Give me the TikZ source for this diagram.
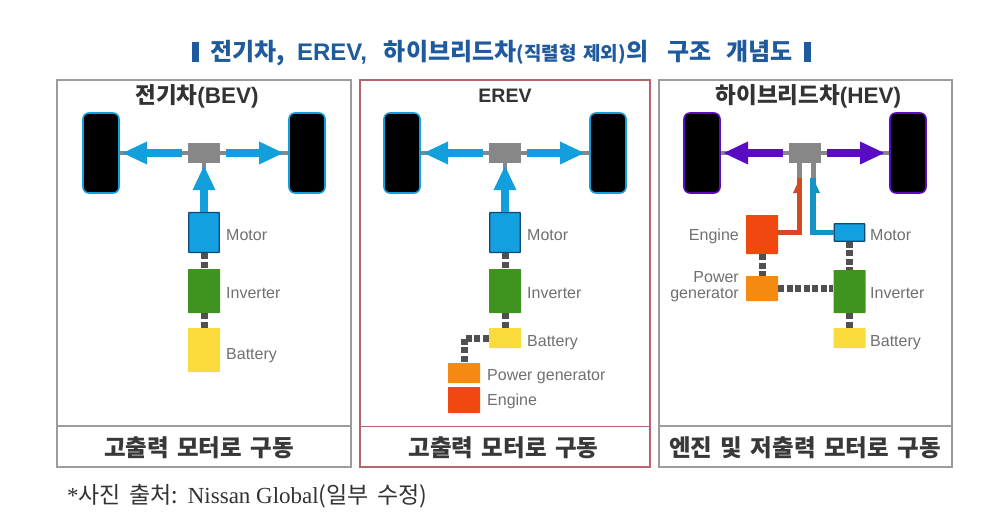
\documentclass[tikz,border=0pt]{standalone}
\usepackage{fontspec}
\setmainfont{Liberation Sans}
\newfontfamily\krf{Noto Sans CJK KR}
\newfontfamily\serf{Liberation Serif}
\usetikzlibrary{arrows.meta,calc}
\definecolor{titleblue}{HTML}{1F5A9C}
\definecolor{panelgray}{HTML}{9C9C9C}
\definecolor{panelred}{HTML}{B5666C}
\definecolor{drivecyan}{HTML}{129FDC}
\definecolor{drivepurple}{HTML}{5A0BC4}
\definecolor{hubgray}{HTML}{878787}
\definecolor{motorblue}{HTML}{12A0E0}
\definecolor{motorline}{HTML}{0B4A78}
\definecolor{invgreen}{HTML}{3F9420}
\definecolor{batyellow}{HTML}{F9DC3C}
\definecolor{genorange}{HTML}{F58A10}
\definecolor{engred}{HTML}{F0480F}
\definecolor{redarrow}{HTML}{D24A20}
\definecolor{bluearrow}{HTML}{1692C8}
\definecolor{wiredark}{HTML}{505050}
\definecolor{labelgray}{HTML}{707070}
\tikzset{
  x=1pt,y=-1pt,
  panelbox/.style={draw=panelgray,line width=1.6pt,fill=white},
  redbox/.style={draw=panelred,line width=1.8pt,fill=white},
  partbox/.style={fill=#1,draw=none,inner sep=0pt,rounded corners=0.6pt},
  wheelbox/.style={fill=black,draw=#1,line width=1.6pt,rounded corners=6pt},
  hubbox/.style={fill=hubgray,draw=none},
  drive/.style={line width=8.5pt,draw=#1,
    -{Triangle[length=25pt,width=21pt]}},
  axle/.style={line width=3.5pt,draw=hubgray},
  wire/.style={line width=7pt,draw=wiredark,dash pattern=on 6pt off 2.5pt},
  halfarrow/.style={line width=5.5pt,draw=#1},
  partlabel/.style={font=\fontsize{16}{16}\selectfont,text=labelgray,inner sep=0pt},
  paneltitle/.style={font=\bfseries\fontsize{22.5}{22.5}\selectfont,text=black!80,inner sep=0pt},
  panelfoot/.style={font=\krf\bfseries\fontsize{23.5}{23.5}\selectfont,text=black!78,inner sep=0pt},
}
\newcommand{\wheelset}[3]{%
  \path[wheelbox=#3] (#2+83,113) rectangle (#2+119,193);
  \path[wheelbox=#3] (#2+289,113) rectangle (#2+325,193);
  \coordinate (#1wl) at (#2+120,153);
  \coordinate (#1wr) at (#2+288,153);
  \node[hubbox,minimum width=32pt,minimum height=20pt,inner sep=0pt] (#1hub) at (#2+204,153) {};
  \draw[axle] (#1hub.west) -- (#1wl);
  \draw[axle] (#1hub.east) -- (#1wr);
  \coordinate (#1sl) at (#2+182,153);
  \coordinate (#1sr) at (#2+226,153);
  \coordinate (#1tl) at (#2+122,153);
  \coordinate (#1tr) at (#2+284,153);
  \draw[drive=#3] (#1sl) -- (#1tl);
  \draw[drive=#3] (#1sr) -- (#1tr);
}
\begin{document}
\begin{tikzpicture}
\useasboundingbox (0,0) rectangle (997,530);
\fill[white] (0,0) rectangle (997,530);

% title
\fill[titleblue] (192,42) rectangle (199,62);
\fill[titleblue] (804,42) rectangle (811,62);
\node[anchor=center,inner sep=0pt,text=titleblue,font=\bfseries\fontsize{24}{24}\selectfont] (title) at (501.5,53)
  {{\krf 전기차,}\hspace{12pt}EREV,\hspace{17pt}{\krf 하이브리드차{\fontsize{19}{19}\selectfont(직렬형\hspace{7pt}제외)}의}\hspace{19pt}{\krf 구조}\hspace{15pt}{\krf 개념도}};

% panels
\draw[panelbox] (57,80) rectangle (351,467);
\draw[panelgray,line width=1.6pt] (57,426) -- (351,426);
\draw[redbox] (360,80) rectangle (650,467);
\draw[panelred,line width=1.8pt] (360,426.5) -- (650,426.5);
\draw[panelbox] (659,80) rectangle (952,467);
\draw[panelgray,line width=1.6pt] (659,426) -- (952,426);

\node[paneltitle] (t1) at (197,96.5) {{\krf 전기차}(BEV)};
\node[paneltitle,font=\bfseries\fontsize{19.5}{19.5}\selectfont] (t2) at (505,96) {EREV};
\node[paneltitle] (t3) at (808.5,96.5) {{\krf 하이브리드차}(HEV)};
\node[panelfoot] (f1) at (199,447.5) {고출력\hspace{3pt} 모터로\hspace{3pt} 구동};
\node[panelfoot] (f2) at (503.5,447.5) {고출력\hspace{3pt} 모터로\hspace{3pt} 구동};
\node[panelfoot] (f3) at (805,447.5) {엔진\hspace{3pt} 및\hspace{3pt} 저출력\hspace{3pt} 모터로\hspace{3pt} 구동};

% BEV
\wheelset{a}{0}{drivecyan}
\node[partbox=motorblue,draw=motorline,line width=1.4pt,minimum width=30.5pt,minimum height=40pt] (am) at (204,232.5) {};
\node[partbox=invgreen,minimum width=32pt,minimum height=44pt] (ai) at (204,291) {};
\node[partbox=batyellow,minimum width=32pt,minimum height=44pt] (ab) at (204,350) {};
\draw[axle] (am.north) -- (ahub.south);
\draw[drive=drivecyan] (am.north) -- ($(ahub.south)+(0,2)$);
\draw[wire] (am.south) -- (ai.north);
\draw[wire] (ai.south) -- (ab.north);
\node[partlabel,anchor=base west] at (226,240) {Motor};
\node[partlabel,anchor=base west] at (226,298) {Inverter};
\node[partlabel,anchor=base west] at (226,359) {Battery};

% EREV
\wheelset{b}{301}{drivecyan}
\node[partbox=motorblue,draw=motorline,line width=1.4pt,minimum width=30.5pt,minimum height=40pt] (bm) at (505,232.5) {};
\node[partbox=invgreen,minimum width=32pt,minimum height=44pt] (bi) at (505,291) {};
\node[partbox=batyellow,minimum width=32pt,minimum height=20pt] (bb) at (505,338) {};
\node[partbox=genorange,minimum width=32pt,minimum height=20pt] (bg) at (464,373) {};
\node[partbox=engred,minimum width=32pt,minimum height=26pt] (be) at (464,400) {};
\draw[axle] (bm.north) -- (bhub.south);
\draw[drive=drivecyan] (bm.north) -- ($(bhub.south)+(0,2)$);
\draw[wire] (bm.south) -- (bi.north);
\draw[wire] (bi.south) -- (bb.north);
\draw[wire] (bb.west) -| (bg.north);
\node[partlabel,anchor=base west] at (527,240) {Motor};
\node[partlabel,anchor=base west] at (527,298) {Inverter};
\node[partlabel,anchor=base west] at (527,346) {Battery};
\node[partlabel,anchor=base west] at (487,380) {Power generator};
\node[partlabel,anchor=base west] at (487,405) {Engine};

% HEV
\wheelset{c}{601}{drivepurple}
\node[partbox=engred,minimum width=32pt,minimum height=39pt] (ce) at (762,234.5) {};
\node[partbox=genorange,minimum width=32pt,minimum height=25pt] (cg) at (762,288.5) {};
\node[partbox=motorblue,draw=motorline,line width=1.4pt,minimum width=30.5pt,minimum height=17.5pt] (cm) at (849.5,232.5) {};
\node[partbox=invgreen,minimum width=32pt,minimum height=43pt] (ci) at (849.5,291.5) {};
\node[partbox=batyellow,minimum width=32pt,minimum height=20pt] (cb) at (849.5,338) {};
\coordinate (cet) at (799.5,178);
\coordinate (ceh) at (799.5,163);
\coordinate (cmt) at (813,178);
\coordinate (cmh) at (813,163);
\coordinate (cin) at (ci.west |- cg.east);
\draw[line width=5pt,draw=hubgray] (ceh) -- (cet);
\draw[line width=5pt,draw=hubgray] (cmh) -- (cmt);
\draw[halfarrow=redarrow] (ce.east |- cm.west) -| (cet);
\fill[redarrow] (793,193) -- (800,178) -- (802,193) -- cycle;
\draw[halfarrow=bluearrow] (cm.west) -| (cmt);
\fill[bluearrow] (820,193) -- (813,178) -- (811,193) -- cycle;
\draw[wire] (ce.south) -- (cg.north);
\draw[wire] (cg.east) -- (cin);
\draw[wire] (cm.south) -- (ci.north);
\draw[wire] (ci.south) -- (cb.north);
\node[partlabel,anchor=base east] at (739,240) {Engine};
\node[partlabel,anchor=base east] at (739,282) {Power};
\node[partlabel,anchor=base east] at (739,298) {generator};
\node[partlabel,anchor=base west] at (870,240) {Motor};
\node[partlabel,anchor=base west] at (870,298) {Inverter};
\node[partlabel,anchor=base west] at (870,346) {Battery};

% source
\node[anchor=west,inner sep=0pt,text=black!80,font=\fontsize{23}{23}\selectfont] (src) at (67,496)
  {{\serf *}{\krf 사진\hspace{3pt} 출처:}\hspace{10pt}{\serf Nissan Global}{\krf (일부\hspace{3pt} 수정)}};
\end{tikzpicture}
\end{document}
